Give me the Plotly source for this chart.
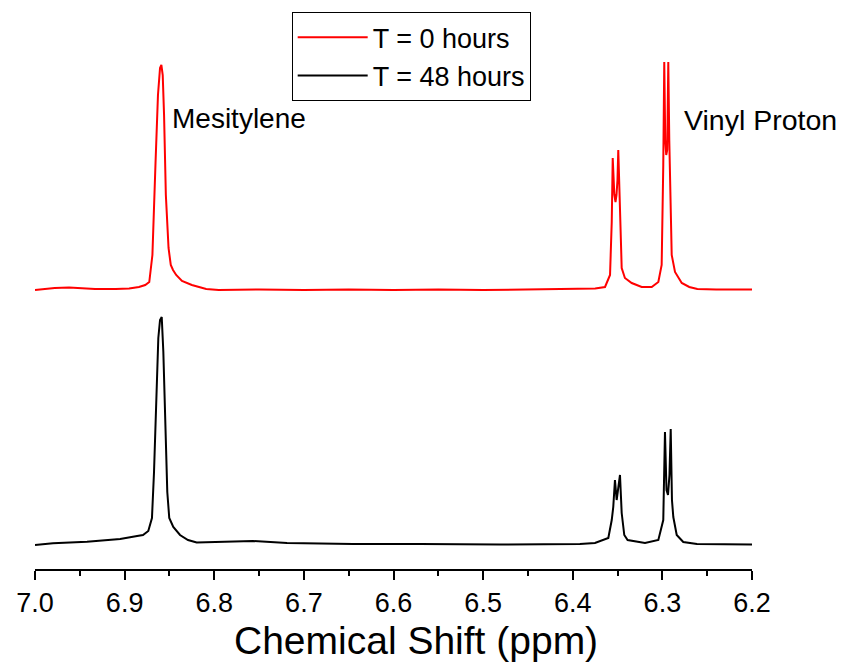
import plotly.graph_objects as go

# ---- data ----
red_ppm = [7.000, 6.990, 6.978, 6.962, 6.950, 6.933, 6.910, 6.895, 6.884, 6.877, 6.8725,
           6.8690, 6.8655, 6.8628, 6.8605, 6.8590, 6.8575, 6.8560, 6.8540, 6.8525, 6.8510,
           6.8485, 6.8460, 6.8425, 6.8360, 6.8250, 6.8090, 6.795, 6.75, 6.70, 6.65, 6.60,
           6.55, 6.50, 6.45, 6.40, 6.375, 6.3640, 6.3584, 6.3565, 6.3554, 6.3536, 6.3523,
           6.3512, 6.3501, 6.3492, 6.3481, 6.3473, 6.3454, 6.3418, 6.3342, 6.3231, 6.3119,
           6.3045, 6.3008, 6.2990, 6.2979, 6.2968, 6.2957, 6.2946, 6.2934, 6.2923, 6.2912,
           6.2896, 6.2859, 6.2784, 6.2700, 6.2610, 6.240, 6.220, 6.200]
red_int = [0, 1, 2, 2.5, 2, 1, 1, 1.5, 3, 5, 8,
           35, 128, 195, 222, 225, 215, 175, 95, 60, 42,
           25, 20, 15, 9, 5, 1, 0, 0.5, 0, 0.5, 0,
           0.5, 0, 0.5, 0.5, 1.5, 3, 15, 68, 132, 95, 88,
           95, 110, 140, 100, 68, 22, 12, 7, 3, 3,
           8, 25, 125, 228, 150, 135, 140, 228, 150, 112,
           35, 18, 7, 3, 1, 0.5, 0.5, 0.5]

black_ppm = [7.000, 6.980, 6.942, 6.905, 6.886, 6.8795, 6.8736, 6.8695, 6.8672, 6.8650,
             6.8624, 6.8605, 6.8586, 6.8568, 6.8550, 6.8524, 6.8502, 6.8457, 6.8382, 6.8293,
             6.8196, 6.7936, 6.7568, 6.7188, 6.6452, 6.5704, 6.4812, 6.392, 6.3752, 6.3603,
             6.3565, 6.3548, 6.3529, 6.3510, 6.3492, 6.3473, 6.3454, 6.3425, 6.3388, 6.3194,
             6.3045, 6.2990, 6.2971, 6.2954, 6.2937, 6.2921, 6.2907, 6.2893, 6.2878, 6.2840,
             6.2767, 6.2614, 6.200]
black_int = [0, 1.7, 3.3, 6, 9, 10, 14, 27, 73, 140,
             207, 225, 228, 193, 123, 53, 27, 18, 10, 5,
             2.5, 3, 4, 2, 1, 1, 0.5, 1, 2, 7,
             25, 38, 65, 45, 55, 70, 32, 10, 5, 2,
             5, 25, 113, 55, 50, 70, 116, 45, 28, 10,
             3, 1, 0.5]

red_offset = 255
series_names = ["T = 0 hours", "T = 48 hours"]
x_ticks = [7.0, 6.9, 6.8, 6.7, 6.6, 6.5, 6.4, 6.3, 6.2]
peak_labels = ["Mesitylene", "Vinyl Proton"]
x_title = "Chemical Shift (ppm)"

FONT = "Liberation Sans, Arial, sans-serif"

fig = go.Figure()
fig.add_trace(go.Scatter(x=red_ppm, y=[v + red_offset for v in red_int], mode="lines",
                         name=series_names[0], line=dict(color="#ff0000", width=2)))
fig.add_trace(go.Scatter(x=black_ppm, y=black_int, mode="lines",
                         name=series_names[1], line=dict(color="#000000", width=2)))

fig.update_layout(
    width=844, height=664,
    margin=dict(l=35, r=92, t=10, b=95),
    paper_bgcolor="white", plot_bgcolor="white",
    font=dict(family=FONT, color="black"),
    showlegend=True,
    legend=dict(x=0.358, y=0.996, xanchor="left", yanchor="top",
                bordercolor="black", borderwidth=1, bgcolor="white",
                font=dict(size=27, family=FONT, color="black"),
                itemwidth=70, tracegroupgap=0),
    xaxis=dict(range=[7.0, 6.2], tickvals=x_ticks,
               ticktext=[f"{v:.1f}" for v in x_ticks],
               showline=True, linecolor="black", linewidth=2,
               ticks="outside", ticklen=9, tickwidth=2, tickcolor="black",
               minor=dict(ticks="outside", ticklen=5, tickwidth=2, dtick=0.05,
                          tick0=6.25, tickcolor="black"),
               showgrid=False, zeroline=False,
               tickfont=dict(size=27, family=FONT, color="black")),
    yaxis=dict(range=[-24, 535], visible=False, showgrid=False, zeroline=False),
)

fig.add_annotation(text=peak_labels[0], x=6.8494, y=427, xref="x", yref="y",
                   xanchor="left", yanchor="middle", showarrow=False,
                   font=dict(size=28, family=FONT, color="black"))
fig.add_annotation(text=peak_labels[1], x=6.2785, y=425, xref="x", yref="y",
                   xanchor="left", yanchor="middle", showarrow=False,
                   font=dict(size=28.5, family=FONT, color="black"))
fig.add_annotation(text=x_title, x=0.531, y=0, xref="paper", yref="paper",
                   xanchor="center", yanchor="bottom", yshift=-95, showarrow=False,
                   font=dict(size=39, family=FONT, color="black"))

fig.write_html("out.html")
